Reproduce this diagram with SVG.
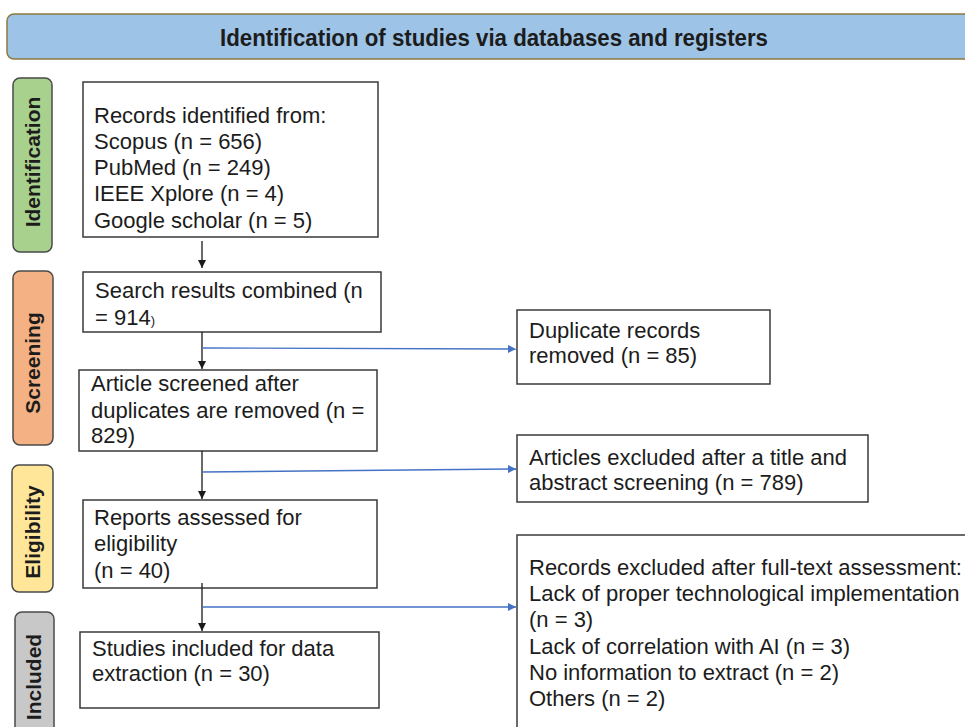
<svg xmlns="http://www.w3.org/2000/svg" width="965" height="727" viewBox="0 0 965 727">
  <style>
    .box { fill: #ffffff; stroke: #3a3a3a; stroke-width: 1.5; }
    .txt { font-family: "Liberation Sans", Arial, sans-serif; font-size: 22px; fill: #1c1c1c; }
    .phase { stroke: #4a4a4a; stroke-width: 1.5; }
    .phase-txt { font-family: "Liberation Sans", Arial, sans-serif; font-size: 21px; font-weight: bold; fill: #1c1c1c; text-anchor: middle; }
    .flow { stroke: #1a1a1a; stroke-width: 1.3; fill: none; marker-end: url(#arrowBlack); }
    .side { stroke: #4472C4; stroke-width: 1.4; fill: none; marker-end: url(#arrowBlue); }
  </style>
  <defs>
    <marker id="arrowBlack" viewBox="0 0 10 10" refX="10" refY="5" markerWidth="8" markerHeight="8" markerUnits="userSpaceOnUse" orient="auto">
      <path d="M0,0 L10,5 L0,10 z" fill="#1a1a1a"/>
    </marker>
    <marker id="arrowBlue" viewBox="0 0 10 10" refX="10" refY="5" markerWidth="8" markerHeight="8" markerUnits="userSpaceOnUse" orient="auto">
      <path d="M0,0 L10,5 L0,10 z" fill="#4472C4"/>
    </marker>
  </defs>

  <rect width="965" height="727" fill="#ffffff"/>

  <!-- title banner -->
  <g id="header">
    <rect x="7" y="14" width="975" height="45" rx="7" fill="#9DC3E6" stroke="#8C7A3E" stroke-width="1.5"/>
    <text x="220" y="46" font-family="Liberation Sans, Arial, sans-serif" font-size="23" font-weight="bold" fill="#1c1c1c" textLength="548" lengthAdjust="spacingAndGlyphs">Identification of studies via databases and registers</text>
  </g>

  <!-- phase labels -->
  <g id="phase-identification">
    <rect class="phase" x="13" y="78" width="39" height="174" rx="7" fill="#A9D18E"/>
    <text class="phase-txt" transform="translate(40,162) rotate(-90)">Identification</text>
  </g>
  <g id="phase-screening">
    <rect class="phase" x="13" y="271" width="40" height="174" rx="7" fill="#F4B183"/>
    <text class="phase-txt" transform="translate(40,363) rotate(-90)">Screening</text>
  </g>
  <g id="phase-eligibility">
    <rect class="phase" x="12" y="465" width="41" height="127" rx="7" fill="#FFE699"/>
    <text class="phase-txt" transform="translate(40,532) rotate(-90)">Eligibility</text>
  </g>
  <g id="phase-included">
    <rect class="phase" x="15" y="612" width="39" height="130" rx="7" fill="#C8C8C8"/>
    <text class="phase-txt" transform="translate(41,677) rotate(-90)">Included</text>
  </g>

  <!-- main column -->
  <g id="records-identified">
    <rect class="box" x="83" y="82" width="295" height="155"/>
    <text class="txt" x="94" y="123">Records identified from:</text>
    <text class="txt" x="94" y="149">Scopus (n = 656)</text>
    <text class="txt" x="94" y="175">PubMed (n = 249)</text>
    <text class="txt" x="94" y="201">IEEE Xplore (n = 4)</text>
    <text class="txt" x="94" y="228">Google scholar (n = 5)</text>
  </g>
  <g id="search-combined">
    <rect class="box" x="83" y="272" width="298" height="60"/>
    <text class="txt" x="95" y="298">Search results combined (n</text>
    <text class="txt" x="95" y="325">= 914<tspan font-size="13">)</tspan></text>
  </g>
  <g id="screened">
    <rect class="box" x="79" y="370" width="298" height="81"/>
    <text class="txt" x="91" y="391">Article screened after</text>
    <text class="txt" x="91" y="418">duplicates are removed (n =</text>
    <text class="txt" x="91" y="443">829)</text>
  </g>
  <g id="assessed">
    <rect class="box" x="83" y="500" width="294" height="88"/>
    <text class="txt" x="94" y="525">Reports assessed for</text>
    <text class="txt" x="94" y="551">eligibility</text>
    <text class="txt" x="94" y="578">(n = 40)</text>
  </g>
  <g id="included">
    <rect class="box" x="80" y="632" width="299" height="76"/>
    <text class="txt" x="92" y="656">Studies included for data</text>
    <text class="txt" x="92" y="681">extraction (n = 30)</text>
  </g>

  <!-- exclusion column -->
  <g id="duplicates-removed">
    <rect class="box" x="517" y="310" width="253" height="74"/>
    <text class="txt" x="529" y="338">Duplicate records</text>
    <text class="txt" x="529" y="363">removed (n = 85)</text>
  </g>
  <g id="title-abstract-excluded">
    <rect class="box" x="517" y="435" width="351" height="67"/>
    <text class="txt" x="529" y="465">Articles excluded after a title and</text>
    <text class="txt" x="529" y="490">abstract screening (n = 789)</text>
  </g>
  <g id="fulltext-excluded">
    <rect class="box" x="517" y="535" width="470" height="210"/>
    <text class="txt" x="529" y="575">Records excluded after full-text assessment:</text>
    <text class="txt" x="529" y="601">Lack of proper technological implementation</text>
    <text class="txt" x="529" y="627">(n = 3)</text>
    <text class="txt" x="529" y="654">Lack of correlation with AI (n = 3)</text>
    <text class="txt" x="529" y="680">No information to extract (n = 2)</text>
    <text class="txt" x="529" y="706">Others (n = 2)</text>
  </g>

  <!-- connectors -->
  <g id="connectors">
    <line class="flow" x1="202" y1="241" x2="202" y2="268"/>
    <line class="flow" x1="202" y1="332" x2="202" y2="369"/>
    <line class="flow" x1="202" y1="451" x2="202" y2="499"/>
    <line class="flow" x1="202" y1="583" x2="202" y2="631"/>
    <line class="side" x1="202" y1="348" x2="516" y2="349"/>
    <line class="side" x1="202" y1="472" x2="516" y2="469"/>
    <line class="side" x1="202" y1="607" x2="516" y2="607"/>
  </g>
</svg>
